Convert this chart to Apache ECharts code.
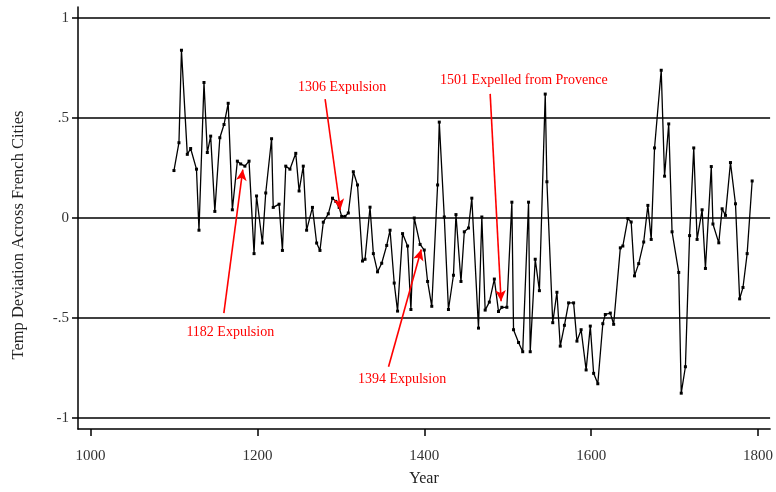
<!DOCTYPE html>
<html>
<head>
<meta charset="utf-8">
<script src="https://cdn.jsdelivr.net/npm/echarts@6/dist/echarts.min.js"></script>
<style>
html,body{margin:0;padding:0;background:#fff;}
#chart{width:776px;height:492px;}
</style>
</head>
<body>
<div id="chart"></div>
<script>
const years = [1100,1106,1109,1116,1120,1127,1130,1136,1140,1144,1149,1155,1160,1165,1170,1176,1180,1185,1190,1196,1199,1206,1210,1217,1219,1226,1230,1234,1239,1246,1250,1255,1259,1266,1271,1275,1279,1285,1290,1294,1298,1301,1305,1309,1315,1320,1326,1329,1335,1339,1344,1349,1355,1359,1364,1368,1374,1380,1384,1388,1395,1400,1404,1409,1416,1418,1424,1429,1435,1438,1444,1448,1453,1457,1465,1469,1473,1478,1484,1489,1493,1499,1505,1507,1513,1518,1525,1527,1533,1538,1545,1547,1554,1559,1563,1568,1573,1579,1583,1588,1594,1599,1603,1608,1614,1617,1623,1627,1635,1638,1644,1648,1652,1657,1663,1668,1672,1676,1684,1688,1693,1697,1705,1708,1713,1718,1723,1727,1733,1737,1744,1746,1753,1757,1761,1767,1773,1778,1782,1787,1793];
const temps = [0.237,0.376,0.838,0.318,0.347,0.244,-0.061,0.677,0.327,0.409,0.033,0.401,0.467,0.573,0.041,0.284,0.27,0.259,0.284,-0.178,0.11,-0.125,0.125,0.396,0.053,0.069,-0.162,0.259,0.244,0.323,0.135,0.259,-0.061,0.053,-0.125,-0.162,-0.021,0.021,0.099,0.083,0.053,0.008,0.008,0.025,0.231,0.165,-0.215,-0.206,0.054,-0.178,-0.269,-0.226,-0.137,-0.061,-0.325,-0.465,-0.078,-0.14,-0.457,0.0,-0.132,-0.16,-0.317,-0.441,0.165,0.479,0.005,-0.457,-0.286,0.017,-0.317,-0.069,-0.05,0.099,-0.55,0.005,-0.46,-0.42,-0.305,-0.467,-0.446,-0.446,0.079,-0.558,-0.622,-0.668,0.079,-0.668,-0.206,-0.363,0.619,0.181,-0.523,-0.371,-0.64,-0.536,-0.424,-0.424,-0.615,-0.558,-0.759,-0.54,-0.776,-0.828,-0.528,-0.482,-0.475,-0.531,-0.149,-0.14,-0.003,-0.02,-0.289,-0.228,-0.12,0.063,-0.107,0.35,0.738,0.209,0.47,-0.069,-0.272,-0.875,-0.743,-0.088,0.35,-0.107,0.041,-0.252,0.257,-0.03,-0.124,0.046,0.013,0.277,0.071,-0.404,-0.347,-0.178,0.185];

const xTickValues = [1000,1200,1400,1600,1800];
const yTickValues = [-1,-0.5,0,0.5,1];
const yTickLabels = ['-1','-.5','0','.5','1'];

const annoTexts = ['1306 Expulsion','1501 Expelled from Provence','1182 Expulsion','1394 Expulsion'];
const annoTextPos = [[1301.6,0.653],[1519.4,0.687],[1167.5,-0.569],[1373.4,-0.805]];
const arrowFrom = [[1281.2,0.594],[1479,0.62],[1159.8,-0.475],[1357.2,-0.743]];
const arrowTo = [[1299.4,0.04],[1492.1,-0.416],[1182.5,0.242],[1396.4,-0.157]];

const FONT = '"Liberation Serif", "DejaVu Serif", serif';
const chart = echarts.init(document.getElementById('chart'), null, {renderer:'canvas'});
const data = years.map((y,i)=>[y,temps[i]]);

chart.setOption({
  animation:false,
  backgroundColor:'#fff',
  grid:{left:78,right:5,top:7,bottom:56,containLabel:false},
  xAxis:{
    type:'value', min:985, max:1814.5,
    name:'Year', nameLocation:'middle', nameGap:42,
    nameTextStyle:{fontFamily:FONT,fontSize:16,color:'#222'},
    axisLine:{show:true,onZero:false,lineStyle:{color:'#000',width:1.5}},
    axisTick:{show:true,length:7,lineStyle:{color:'#000',width:1.5},customValues:xTickValues},
    axisLabel:{show:true,customValues:xTickValues,margin:20,fontFamily:FONT,fontSize:15,color:'#333',
      formatter:function(v){return String(Math.round(v));}},
    splitLine:{show:false}
  },
  yAxis:{
    type:'value', min:-1.054, max:1.054,
    name:'Temp Deviation Across French Cities', nameLocation:'middle', nameGap:51,
    nameTextStyle:{fontFamily:FONT,fontSize:16.5,color:'#222',padding:[0,34,0,0]},
    axisLine:{show:true,onZero:false,lineStyle:{color:'#000',width:1.5}},
    axisTick:{show:true,length:6,lineStyle:{color:'#000',width:1.5},customValues:yTickValues},
    axisLabel:{show:true,customValues:yTickValues,margin:9,fontFamily:FONT,fontSize:15,color:'#333',
      formatter:function(v){const i=yTickValues.findIndex(t=>Math.abs(t-v)<1e-6);return i>=0?yTickLabels[i]:'';}},
    splitLine:{show:false}
  },
  series:[
    {
      type:'line', data:[], z:1, silent:true,
      markLine:{silent:true,symbol:['none','none'],label:{show:false},
        lineStyle:{color:'#000',width:1.5,type:'solid'},
        data:yTickValues.map(v=>({yAxis:v}))}
    },
    {
      type:'line', data:data, z:3,
      symbol:'rect', symbolSize:3, showAllSymbol:true,
      lineStyle:{color:'#000',width:1.3},
      itemStyle:{color:'#000'},
      markLine:{silent:true,symbol:['none','arrow'],symbolSize:[8,11],label:{show:false},
        lineStyle:{color:'#ff0000',width:1.6,type:'solid'},
        data:arrowFrom.map((f,i)=>[{coord:f},{coord:arrowTo[i]}])},
      markPoint:{silent:true,symbol:'circle',symbolSize:0,
        label:{show:true,position:'inside',color:'#ff0000',fontFamily:FONT,fontSize:14,
          formatter:function(p){return p.name;}},
        data:annoTexts.map((t,i)=>({name:t,coord:annoTextPos[i]}))}
    }
  ]
});
</script>
</body>
</html>
